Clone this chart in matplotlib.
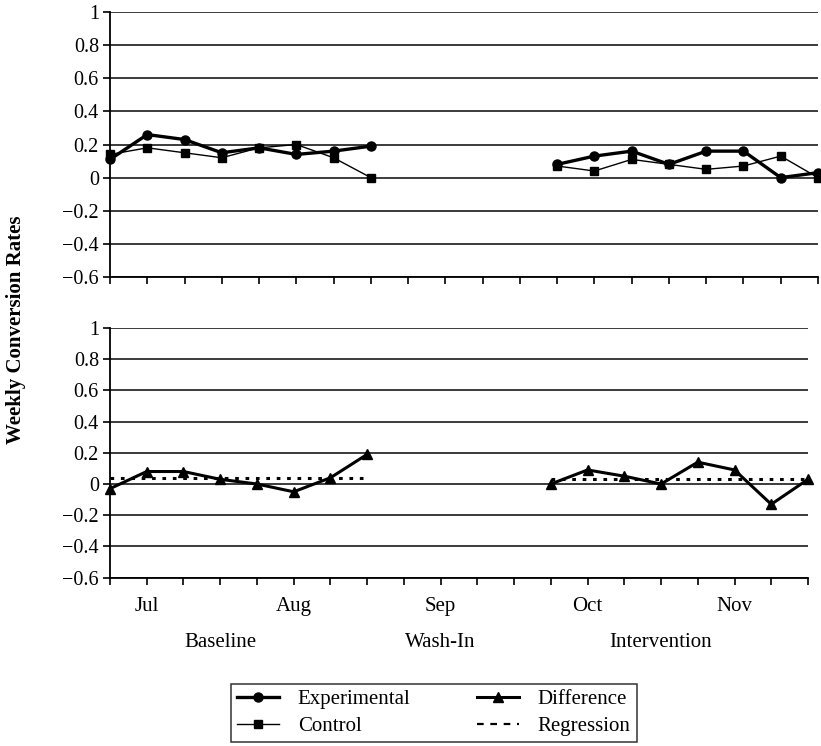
#%% Libraries
import numpy as np
import matplotlib.pyplot as plt
from matplotlib.lines import Line2D

plt.rcParams['font.family'] = ['Liberation Serif', 'DejaVu Serif']

#%% Data (weekly conversion rates)
months      = ['Jul', 'Aug', 'Sep', 'Oct', 'Nov']
month_idx   = [1, 5, 9, 13, 17]
phases      = ['Baseline', 'Wash-In', 'Intervention']
phase_idx   = [3, 9, 15]
n_weeks     = 20

base_weeks  = np.arange(0, 8)
int_weeks   = np.arange(12, 20)

exp_base    = [0.11, 0.26, 0.23, 0.15, 0.18, 0.14, 0.16, 0.19]
ctl_base    = [0.14, 0.18, 0.15, 0.12, 0.18, 0.20, 0.12, 0.00]
exp_int     = [0.08, 0.13, 0.16, 0.08, 0.16, 0.16, 0.00, 0.03]
ctl_int     = [0.07, 0.04, 0.11, 0.08, 0.05, 0.07, 0.13, 0.00]

diff_base   = [-0.03, 0.08, 0.08, 0.03, 0.00, -0.05, 0.04, 0.19]
diff_int    = [0.00, 0.09, 0.05, 0.00, 0.14, 0.09, -0.13, 0.03]
reg_base    = [0.04, 0.04]
reg_int     = [0.03, 0.03]

yticks      = [-0.6, -0.4, -0.2, 0, 0.2, 0.4, 0.6, 0.8, 1]
ylabels     = ['\u22120.6', '\u22120.4', '\u22120.2', '0', '0.2', '0.4', '0.6', '0.8', '1']

#%% Figure
fig = plt.figure(figsize=(8.21, 7.46), dpi=100)
ax1 = fig.add_axes([110/821, 1-277/746, (818-110)/821, 265/746])
ax2 = fig.add_axes([110/821, 1-577.6/746, (808-110)/821, 249.6/746])

def style_axis(ax):
    ax.set_xlim(0, n_weeks-1)
    ax.set_ylim(-0.6, 1)
    ax.set_yticks(yticks)
    ax.set_yticklabels(ylabels, fontsize=14.5)
    ax.set_xticks(np.arange(n_weeks))
    ax.set_xticklabels([])
    for y in yticks:
        ax.axhline(y, color='#1a1a1a', lw=1.2, zorder=1)
    for s in ['top', 'right']:
        ax.spines[s].set_visible(False)
    ax.spines['left'].set_linewidth(1.3)
    ax.spines['bottom'].set_linewidth(1.3)
    ax.tick_params(axis='both', direction='out', length=5, width=1.2, colors='black', pad=3)

style_axis(ax1)
style_axis(ax2)

#%% Top panel: experimental vs control
for wk, e, c in [(base_weeks, exp_base, ctl_base), (int_weeks, exp_int, ctl_int)]:
    ax1.plot(wk, c, color='black', lw=1.0, marker='s', ms=6, zorder=3, clip_on=False)
    ax1.plot(wk, e, color='black', lw=2.4, marker='o', ms=6.5, zorder=4, clip_on=False)

#%% Bottom panel: difference and regression
for wk, d, r in [(base_weeks, diff_base, reg_base), (int_weeks, diff_int, reg_int)]:
    ax2.plot([wk[0], wk[-1]], r, color='black', lw=2.2, ls=(0, (1.2, 2.2)), zorder=3)
    ax2.plot(wk, d, color='black', lw=2.2, marker='^', ms=6.5, zorder=4, clip_on=False)

#%% x labels (months and phases)
lbls = ['']*n_weeks
for i, m in zip(month_idx, months):
    lbls[i] = m
ax2.set_xticklabels(lbls, fontsize=15)
ax2.tick_params(axis='x', pad=9)
for i, p in zip(phase_idx, phases):
    ax2.text(i, -0.6 - 0.355, p, ha='center', va='top', fontsize=15)

fig.text(16/821, 1-330/746, 'Weekly Conversion Rates', rotation=90, ha='center', va='center',
         fontsize=15, fontweight='bold')

#%% Legend
handles = [Line2D([], [], color='black', lw=2.4, marker='o', ms=6.5),
           Line2D([], [], color='black', lw=1.0, marker='s', ms=6),
           Line2D([], [], color='black', lw=2.2, marker='^', ms=6.5),
           Line2D([], [], color='black', lw=1.6, ls=(0, (3, 3)))]
names = ['Experimental', 'Control', 'Difference', 'Regression']
leg = fig.legend(handles, names, ncol=2, loc='center', bbox_to_anchor=(434/821, 1-713/746),
                 fontsize=15, frameon=True, fancybox=False, edgecolor='black', handlelength=2.0,
                 columnspacing=3.2, labelspacing=0.35, borderpad=0.3, handletextpad=0.9)
leg.get_frame().set_linewidth(1.1)

fig.savefig('out.png', dpi=100)
